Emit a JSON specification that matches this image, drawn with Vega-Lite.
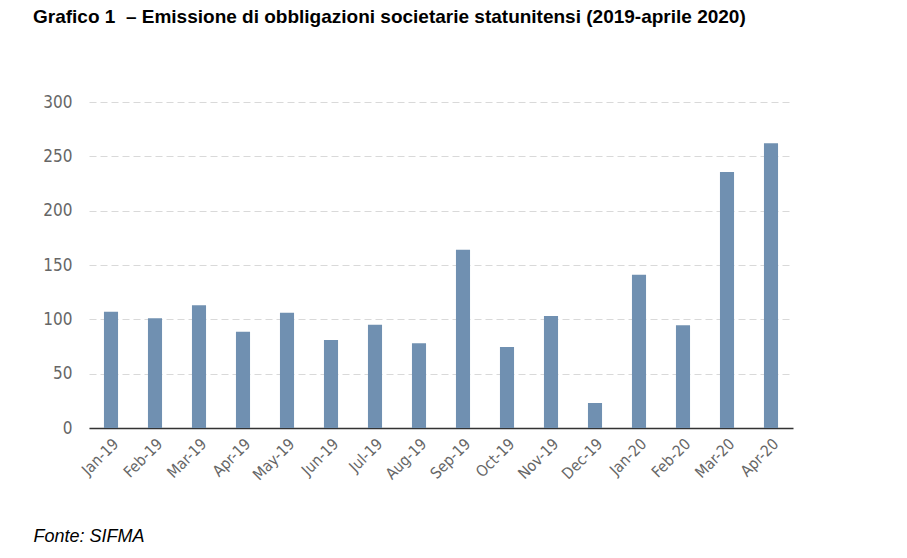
{
  "$schema": "https://vega.github.io/schema/vega-lite/v6.json",
  "width": 704,
  "height": 326,
  "padding": {"left": 33, "top": 8, "right": 10, "bottom": 5},
  "background": "white",
  "title": {
    "text": "Grafico 1\u00a0\u00a0– Emissione di obbligazioni societarie statunitensi (2019-aprile 2020)",
    "anchor": "start",
    "frame": "group",
    "dx": -56,
    "font": "Liberation Sans",
    "fontSize": 19,
    "fontWeight": "bold",
    "color": "#000000",
    "offset": 66
  },
  "data": {
    "values": [
      {"month": "Jan-19", "value": 107},
      {"month": "Feb-19", "value": 101},
      {"month": "Mar-19", "value": 113},
      {"month": "Apr-19", "value": 88.5},
      {"month": "May-19", "value": 106},
      {"month": "Jun-19", "value": 81},
      {"month": "Jul-19", "value": 95},
      {"month": "Aug-19", "value": 78},
      {"month": "Sep-19", "value": 164},
      {"month": "Oct-19", "value": 74.5},
      {"month": "Nov-19", "value": 103},
      {"month": "Dec-19", "value": 23},
      {"month": "Jan-20", "value": 141},
      {"month": "Feb-20", "value": 94.5},
      {"month": "Mar-20", "value": 235.5},
      {"month": "Apr-20", "value": 262}
    ]
  },
  "mark": {"type": "bar", "color": "#7090B1"},
  "encoding": {
    "x": {
      "field": "month",
      "type": "nominal",
      "sort": null,
      "scale": {"paddingInner": 0.68, "paddingOuter": 0.34},
      "axis": {
        "title": "Fonte: SIFMA",
        "titleAnchor": "start",
        "titleAlign": "left",
        "titleBaseline": "alphabetic",
        "titleX": -56,
        "titleY": 113,
        "titleFont": "Liberation Sans",
        "titleFontStyle": "italic",
        "titleFontWeight": "normal",
        "titleFontSize": 18,
        "titleColor": "#000000",
        "labelAngle": -45,
        "labelFont": "DejaVu Sans Condensed, DejaVu Sans, sans-serif",
        "labelFontSize": 15.5,
        "labelColor": "#666666",
        "labelPadding": 8,
        "ticks": false,
        "domainColor": "#333333",
        "domainWidth": 1.5,
        "grid": false
      }
    },
    "y": {
      "field": "value",
      "type": "quantitative",
      "scale": {"domain": [0, 300]},
      "axis": {
        "title": null,
        "values": [0, 50, 100, 150, 200, 250, 300],
        "labelFont": "DejaVu Sans Condensed, DejaVu Sans, sans-serif",
        "labelFontSize": 17,
        "labelColor": "#666666",
        "labelPadding": 17,
        "ticks": false,
        "domain": false,
        "grid": true,
        "gridColor": "#D9D9D9",
        "gridDash": [7, 4],
        "gridWidth": 1
      }
    }
  },
  "config": {
    "view": {"stroke": null}
  }
}
